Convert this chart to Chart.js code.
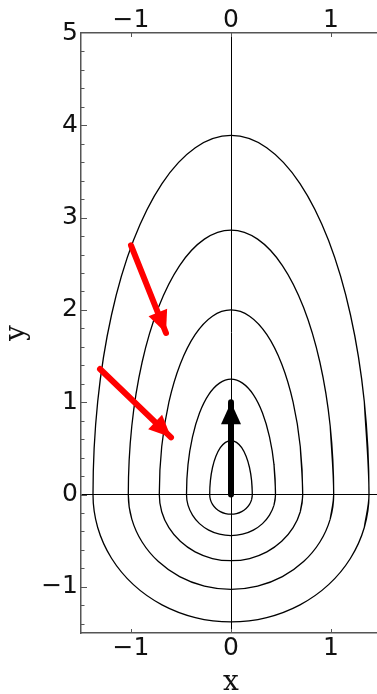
<!DOCTYPE html>
<html>
<head>
<meta charset="utf-8">
<script src="https://cdn.jsdelivr.net/npm/chart.js@4.4.1/dist/chart.umd.min.js"></script>
<style>
html, body { margin: 0; padding: 0; background: #fff; overflow: hidden; }
#box-chart { position: absolute; left: 0; top: 0; }
</style>
</head>
<body>
<div id="box-chart"><canvas id="phaseChart" width="381" height="694"></canvas></div>
<script>
// axis ranges and tick labels
var xMin = -1.5, xMax = 1.5;
var yMin = -1.5, yMax = 5;
var xTicks = [-1, 0, 1];
var yTicks = [-1, 0, 1, 2, 3, 4, 5];

// level curves, each closed (starts and ends on y = 0, right side)
var loop1 = [[0.213,0],[0.206,0.151],[0.185,0.293],[0.151,0.414],[0.107,0.507],[0.055,0.565],[0,0.585],
    [-0.055,0.565],[-0.107,0.507],[-0.151,0.414],[-0.185,0.293],[-0.206,0.151],[-0.213,0],
    [-0.206,-0.055],[-0.185,-0.107],[-0.151,-0.151],[-0.107,-0.185],[-0.055,-0.206],[0,-0.213],
    [0.055,-0.206],[0.107,-0.185],[0.151,-0.151],[0.185,-0.107],[0.206,-0.055],[0.213,0]];
var loop2 = [[0.445,0],[0.430,0.324],[0.385,0.625],[0.315,0.884],[0.223,1.083],[0.115,1.207],[0,1.25],
    [-0.115,1.207],[-0.223,1.083],[-0.315,0.884],[-0.385,0.625],[-0.430,0.324],[-0.445,0],
    [-0.430,-0.115],[-0.385,-0.223],[-0.315,-0.315],[-0.223,-0.385],[-0.115,-0.430],[0,-0.445],
    [0.115,-0.430],[0.223,-0.385],[0.315,-0.315],[0.385,-0.223],[0.430,-0.115],[0.445,0]];
var loop3 = [[0.717,0],[0.693,0.518],[0.621,1.0],[0.507,1.414],[0.359,1.732],[0.186,1.932],[0,2.0],
    [-0.186,1.932],[-0.359,1.732],[-0.507,1.414],[-0.621,1.0],[-0.693,0.518],[-0.717,0],
    [-0.693,-0.186],[-0.621,-0.359],[-0.507,-0.507],[-0.359,-0.621],[-0.186,-0.693],[0,-0.717],
    [0.186,-0.693],[0.359,-0.621],[0.507,-0.507],[0.621,-0.359],[0.693,-0.186],[0.717,0]];
var loop4 = [[1.027,0],[0.992,0.742],[0.889,1.433],[0.726,2.026],[0.514,2.481],[0.266,2.767],[0,2.865],
    [-0.266,2.767],[-0.514,2.481],[-0.726,2.026],[-0.889,1.433],[-0.992,0.742],[-1.027,0],
    [-0.992,-0.266],[-0.889,-0.514],[-0.726,-0.726],[-0.514,-0.889],[-0.266,-0.992],[0,-1.027],
    [0.266,-0.992],[0.514,-0.889],[0.726,-0.726],[0.889,-0.514],[0.992,-0.266],[1.027,0]];
var loop5 = [[1.38,0],[1.333,1.007],[1.195,1.945],[0.976,2.751],[0.69,3.369],[0.357,3.757],[0,3.89],
    [-0.357,3.757],[-0.69,3.369],[-0.976,2.751],[-1.195,1.945],[-1.333,1.007],[-1.38,0],
    [-1.333,-0.357],[-1.195,-0.69],[-0.976,-0.976],[-0.69,-1.195],[-0.357,-1.333],[0,-1.38],
    [0.357,-1.333],[0.69,-1.195],[0.976,-0.976],[1.195,-0.69],[1.333,-0.357],[1.38,0]];

// arrows: [tail, tip]
var redArrow1 = [[-1.0, 2.7], [-0.65, 1.75]];
var redArrow2 = [[-1.31, 1.36], [-0.6, 0.62]];
var blackArrow = [[0, 0], [0, 1.0]];

function toPoints(pts) {
    return pts.map(function (p) { return { x: p[0], y: p[1] }; });
}

// repeat one point on each end so the spline has no corner where the loop closes
function loopData(pts) {
    var n = pts.length;
    return toPoints([pts[n - 2]].concat(pts, [pts[1]]));
}

function fmt(v) {
    return v < 0 ? '\u2212' + Math.abs(v) : String(v);
}

var tickFont = { family: 'DejaVu Sans', size: 25, lineHeight: 1 };
var titleFont = { family: 'DejaVu Serif', size: 28, lineHeight: 0.8 };

// inward frame ticks and arrow heads
var frameTicks = {
    id: 'frameTicks',
    afterDatasetsDraw: function (chart) {
        var ctx = chart.ctx, area = chart.chartArea;
        var sx = chart.scales.x, sy = chart.scales.y;
        ctx.save();
        ctx.strokeStyle = '#555';
        ctx.lineWidth = 1;
        ctx.beginPath();
        xTicks.forEach(function (v) {
            var px = Math.round(sx.getPixelForValue(v)) + 0.5;
            ctx.moveTo(px, area.bottom); ctx.lineTo(px, area.bottom - 4);
            ctx.moveTo(px, area.top); ctx.lineTo(px, area.top + 4);
        });
        for (var k = -7; k < 25; k++) {
            var py = Math.round(sy.getPixelForValue(k * 0.2)) + 0.5;
            var len = (k % 5 === 0) ? 6 : 3.5;
            ctx.moveTo(area.left, py); ctx.lineTo(area.left + len, py);
        }
        ctx.stroke();

        chart.data.datasets.forEach(function (ds, i) {
            if (!ds.arrowHead) return;
            var pts = chart.getDatasetMeta(i).data;
            var a = pts[pts.length - 2], b = pts[pts.length - 1];
            var ang = Math.atan2(b.y - a.y, b.x - a.x);
            var len = 22, half = 10;
            var bx = b.x - len * Math.cos(ang), by = b.y - len * Math.sin(ang);
            ctx.fillStyle = ds.borderColor;
            ctx.beginPath();
            ctx.moveTo(b.x, b.y);
            ctx.lineTo(bx + half * Math.sin(ang), by - half * Math.cos(ang));
            ctx.lineTo(bx - half * Math.sin(ang), by + half * Math.cos(ang));
            ctx.closePath();
            ctx.fill();
        });
        ctx.restore();
    }
};

function arrowSet(pts, color) {
    return {
        data: toPoints(pts),
        showLine: true,
        borderColor: color,
        borderWidth: 6,
        borderCapStyle: 'round',
        pointRadius: 0,
        tension: 0,
        arrowHead: true
    };
}

function loopSet(pts) {
    return {
        data: loopData(pts),
        showLine: true,
        borderColor: '#000',
        borderWidth: 1.3,
        pointRadius: 0,
        tension: 0.34
    };
}

function zeroLine(c) {
    return c.tick && c.tick.value === 0 ? '#000' : 'rgba(0,0,0,0)';
}

var ctx = document.getElementById('phaseChart').getContext('2d');
var phaseChart = new Chart(ctx, {
    type: 'scatter',
    data: {
        datasets: [
            arrowSet(blackArrow, '#000'),
            arrowSet(redArrow1, '#ff0000'),
            arrowSet(redArrow2, '#ff0000'),
            loopSet(loop1),
            loopSet(loop2),
            loopSet(loop3),
            loopSet(loop4),
            loopSet(loop5)
        ]
    },
    options: {
        responsive: false,
        animation: false,
        layout: { padding: 0 },
        plugins: { legend: { display: false }, tooltip: { enabled: false } },
        scales: {
            x: {
                type: 'linear', position: 'bottom', min: xMin, max: xMax,
                afterBuildTicks: function (s) { s.ticks = xTicks.map(function (v) { return { value: v }; }); },
                afterFit: function (s) { s.height = 61; },
                grid: { drawTicks: false, color: zeroLine, lineWidth: 1 },
                border: { display: true, color: '#555', width: 1.5 },
                ticks: { font: tickFont, color: '#111', padding: 3, callback: fmt, maxRotation: 0, autoSkip: false },
                title: { display: true, text: 'x', font: titleFont, color: '#111', padding: 0 }
            },
            x2: {
                type: 'linear', position: 'top', min: xMin, max: xMax,
                afterBuildTicks: function (s) { s.ticks = xTicks.map(function (v) { return { value: v }; }); },
                afterFit: function (s) { s.height = 33; },
                grid: { display: false, drawTicks: false },
                border: { display: true, color: '#555', width: 1.5 },
                ticks: { font: tickFont, color: '#111', padding: 0, callback: fmt, maxRotation: 0, autoSkip: false }
            },
            y: {
                type: 'linear', position: 'left', min: yMin, max: yMax,
                afterBuildTicks: function (s) { s.ticks = yTicks.map(function (v) { return { value: v }; }); },
                afterFit: function (s) { s.width = 81; },
                grid: { drawTicks: false, color: zeroLine, lineWidth: 1 },
                border: { display: true, color: '#555', width: 1.5 },
                ticks: { font: tickFont, color: '#111', padding: 3, callback: fmt, autoSkip: false },
                title: { display: true, text: 'y', font: titleFont, color: '#111', padding: { top: 6, bottom: 0 } }
            }
        }
    },
    plugins: [frameTicks]
});
</script>
</body>
</html>
